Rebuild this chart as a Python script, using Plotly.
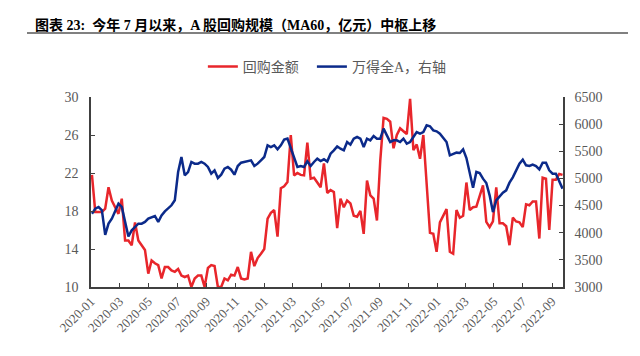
import plotly.graph_objects as go
import pandas as pd

# weekly observation dates (Fridays)
week_dates = pd.date_range("2020-01-03", "2022-09-23", freq="7D")

# 回购金额 (MA60, 亿元) - left axis
buyback = [
    21.8, 17.9, 17.9, 17.9, 18.25, 20.5, 19.1, 18.4, 17.7, 19.3,
    14.9, 14.9, 14.4, 16.8, 14.9, 14.4, 13.9, 11.4, 12.8, 12.5,
    12.3, 10.9, 12.1, 12.1, 11.75, 11.6, 11.9, 11.2, 11.05, 11.2,
    10.0, 10.9, 11.2, 11.2, 10.0, 12.0, 12.3, 12.2, 10.0, 10.0,
    10.9, 10.7, 11.3, 11.2, 12.1, 10.9, 10.8, 10.9, 13.7, 12.2,
    13.05, 13.5, 14.0, 17.2, 17.8, 18.1, 15.3, 20.4, 20.6, 21.05,
    26.0, 21.75, 22.0, 21.8, 21.75, 25.2, 21.4, 21.5, 21.0, 20.5,
    23.0, 19.9, 20.2, 20.0, 16.2, 19.3, 18.4, 19.1, 18.8, 17.5,
    17.4, 18.0, 15.6, 21.2, 19.65, 19.3, 17.0, 23.3, 27.8, 27.7,
    27.4, 24.6, 26.0, 26.7, 26.4, 26.1, 29.8, 24.4, 25.0, 23.5,
    26.0, 20.5, 15.7, 15.6, 13.7, 16.8, 17.5, 18.2, 13.7, 13.5,
    18.1, 17.3, 17.5, 21.0, 18.1, 18.4, 18.45, 19.5, 20.7, 16.85,
    16.3, 16.9, 20.5, 16.7, 16.7, 16.4, 14.4, 17.3, 16.9, 16.8,
    16.3, 18.7, 18.6, 19.0, 19.0, 15.1, 21.5, 21.4, 16.0, 21.3,
    21.3, 21.9, 21.8,
]

# 万得全A - right axis
wind_a = [
    4350, 4443, 4474, 4412, 3960, 4167, 4259, 4412, 4535, 4474,
    4167, 3930, 4044, 4105, 4167, 4167, 4198, 4259, 4290, 4308,
    4198, 4320, 4394, 4443, 4505, 4597, 5118, 5395, 5057, 5118,
    5303, 5272, 5272, 5303, 5272, 5211, 5088, 5149, 5008, 5069,
    5180, 5211, 5161, 5069, 5229, 5290, 5303, 5315, 5333, 5229,
    5272, 5333, 5395, 5610, 5579, 5610, 5536, 5610, 5714, 5733,
    5548, 5395, 5211, 5229, 5211, 5315, 5229, 5303, 5364, 5321,
    5352, 5310, 5456, 5518, 5591, 5548, 5518, 5671, 5622, 5733,
    5763, 5733, 5579, 5733, 5702, 5782, 5733, 5733, 5917, 5794,
    5671, 5702, 5702, 5671, 5733, 5640, 5671, 5763, 5855, 5825,
    5855, 5978, 5960, 5886, 5868, 5825, 5755, 5671, 5426, 5444,
    5475, 5468, 5536, 5376, 5131, 4830, 5119, 5100, 4996, 4916,
    4689, 4380, 4597, 4676, 4738, 4781, 4922, 5020, 5143, 5272,
    5346, 5241, 5229, 5254, 5229, 5168, 5290, 5290, 5149, 5088,
    5088, 4965, 4812,
]

left_ticks = [10, 14, 18, 22, 26, 30]
right_ticks = [3000, 3500, 4000, 4500, 5000, 5500, 6000, 6500]

RED = "#E8262B"
BLUE = "#0B2A8A"
AXIS = "#404040"
LABEL = "#595959"
SERIF = "Liberation Serif, Noto Sans CJK SC"

fig = go.Figure()
fig.add_trace(go.Scatter(x=week_dates, y=buyback, name="回购金额", mode="lines",
                         legend="legend", line=dict(color=RED, width=2.5)))
fig.add_trace(go.Scatter(x=week_dates, y=wind_a, name="万得全A，右轴", mode="lines",
                         legend="legend2", yaxis="y2", line=dict(color=BLUE, width=2.5)))

axis_common = dict(showline=True, linecolor=AXIS, linewidth=1.5, ticks="inside",
                   ticklen=4, tickcolor=AXIS, tickwidth=1, showgrid=False,
                   zeroline=False, tickfont=dict(family=SERIF, size=14, color=LABEL))

legend_common = dict(orientation="h", xanchor="left", y=1.158, yanchor="middle",
                     font=dict(family=SERIF, size=14, color=LABEL),
                     bgcolor="rgba(0,0,0,0)")

fig.update_layout(
    width=640, height=356,
    margin=dict(l=83, r=85, t=89, b=77, pad=0),
    paper_bgcolor="white", plot_bgcolor="white",
    showlegend=True,
    legend=dict(x=0.237, **legend_common),
    legend2=dict(x=0.468, **legend_common),
    title=dict(text="<b>图表 23:  今年 7 月以来，A 股回购规模（MA60，亿元）中枢上移</b>",
               xref="container", yref="container", x=27 / 640, xanchor="left",
               y=1 - 17 / 356, yanchor="middle",
               font=dict(family=SERIF, size=14, color="black")),
    xaxis=dict(type="date", range=["2020-01-01", "2022-09-24"], tick0="2020-01-01",
               dtick="M2", tickformat="%Y-%m", tickangle=-45,
               **{**axis_common, "tickfont": dict(family=SERIF, size=13, color=LABEL)}),
    yaxis=dict(range=[10, 30], tickvals=left_ticks, ticklabelstandoff=8, **axis_common),
    yaxis2=dict(range=[3000, 6500], tickvals=right_ticks, overlaying="y", side="right",
                ticklabelstandoff=7, **axis_common),
    shapes=[dict(type="line", xref="paper", yref="paper", x0=-0.1356, x1=1.1377,
                 y0=1.3368, y1=1.3368, line=dict(color="#808080", width=2))],
)

fig.write_html("out.html")
